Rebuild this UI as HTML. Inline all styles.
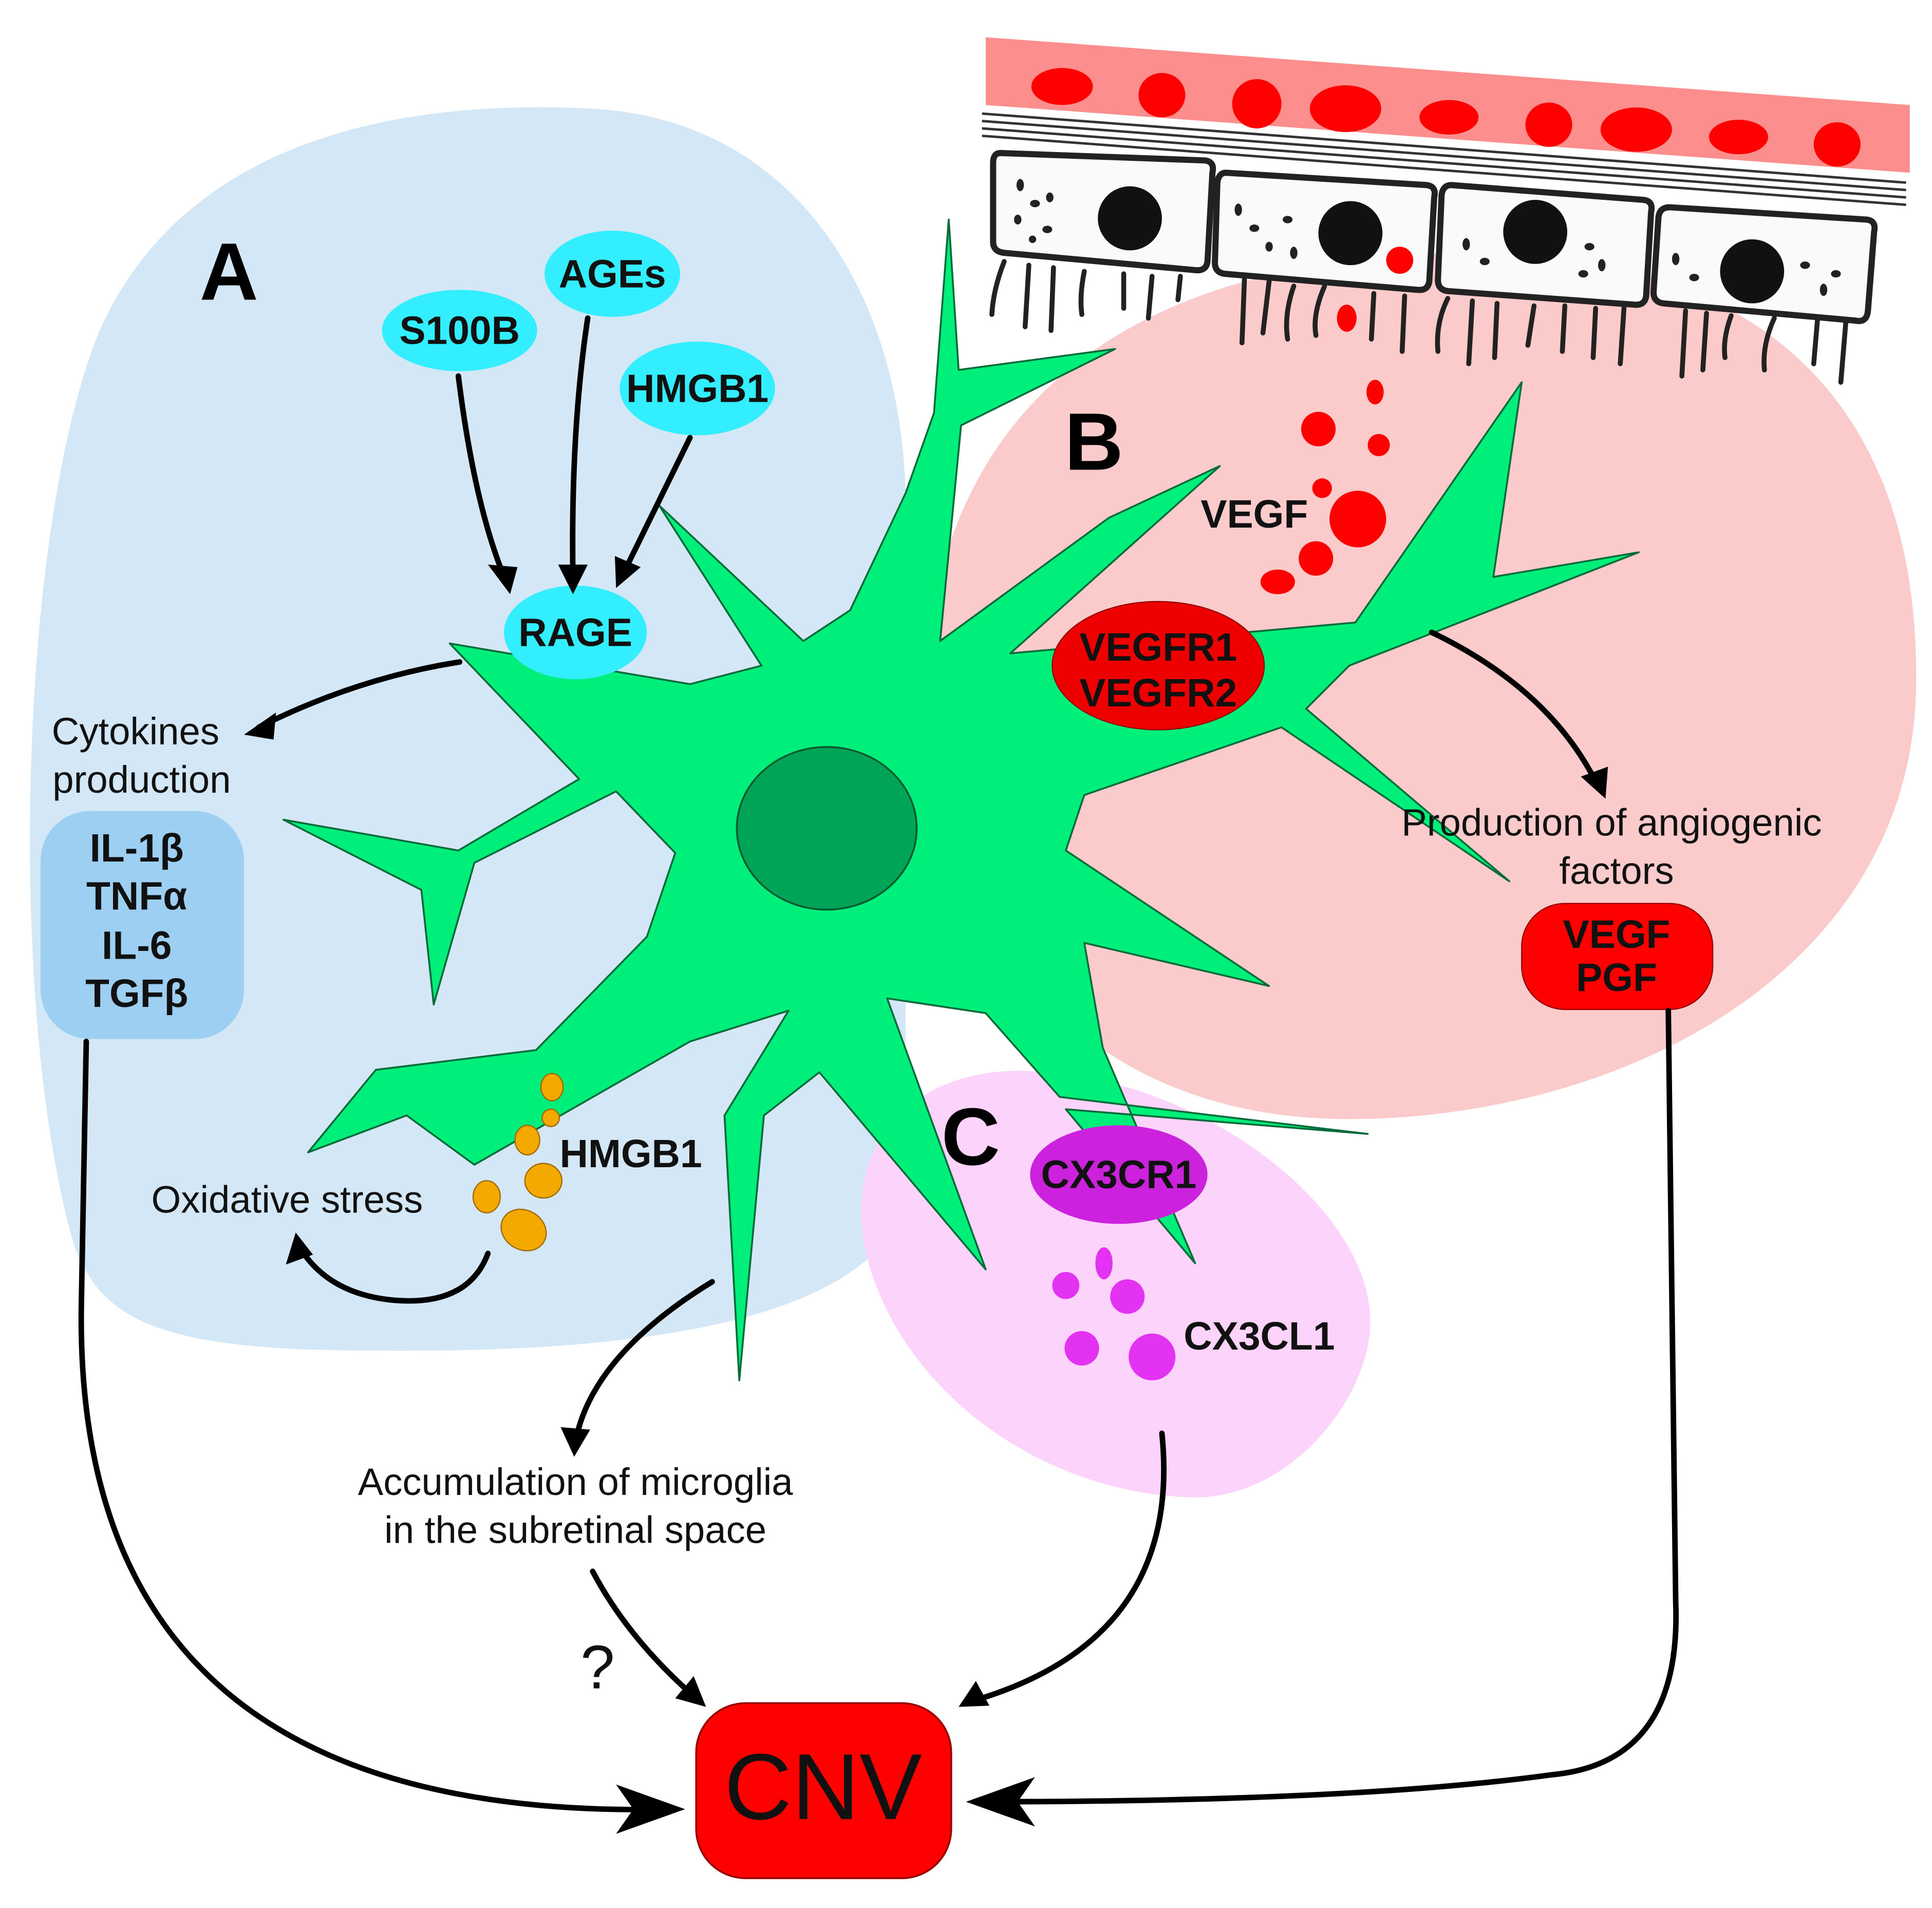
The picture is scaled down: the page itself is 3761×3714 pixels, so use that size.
<!DOCTYPE html>
<html><head><meta charset="utf-8"><style>
html,body{margin:0;padding:0;background:#fff;}
svg{display:block;}
text{font-family:"Liberation Sans",Arial,sans-serif;}
</style></head><body>
<svg width="3761" height="3714" viewBox="0 0 1568 1548" xmlns="http://www.w3.org/2000/svg">
<rect width="1568" height="1548" fill="#fff"/>
<!-- region A -->
<path d="M60,1010 C5,820 15,430 80,270 C150,110 330,80 480,88 C640,96 730,230 735,400 L735,980 C690,1090 450,1100 250,1095 C120,1090 80,1065 60,1010 Z" fill="#d3e7f7"/>
<!-- region B -->
<path d="M760,480 C800,300 950,210 1180,205 C1420,200 1560,320 1555,560 C1550,780 1330,905 1100,908 C880,910 770,760 760,600 Z" fill="#fbcbcb"/>
<!-- region C -->
<path d="M700,1000 C690,910 760,860 850,870 C980,880 1110,980 1112,1070 C1114,1130 1050,1215 970,1215 C830,1212 715,1110 700,1000 Z" fill="#fbd3fb"/>
<!-- top band -->
<polygon points="800,30 1550,85 1550,140 800,85" fill="#fd8e8e"/>
<g fill="#ff0000">
<ellipse cx="862" cy="70" rx="25" ry="15"/><ellipse cx="943" cy="77" rx="19" ry="18"/>
<ellipse cx="1020" cy="84" rx="20" ry="20"/><ellipse cx="1092" cy="88" rx="29" ry="19"/>
<ellipse cx="1176" cy="95" rx="24" ry="14"/><ellipse cx="1257" cy="101" rx="19" ry="18"/>
<ellipse cx="1328" cy="105" rx="29" ry="18"/><ellipse cx="1411" cy="111" rx="24" ry="14"/>
<ellipse cx="1491" cy="117" rx="19" ry="18"/>
</g>
<g stroke="#333" stroke-width="2" fill="none">
<line x1="797" y1="92" x2="1547" y2="148"/><line x1="797" y1="98" x2="1547" y2="154"/>
<line x1="797" y1="104" x2="1547" y2="160"/><line x1="797" y1="110" x2="1547" y2="166"/>
</g>
<!-- cells -->
<g stroke="#222" stroke-width="5" fill="#fafafa">
<path d="M812,124 L978,130 Q986,131 984,140 L980,212 Q979,220 970,219 L815,205 Q806,204 806,196 L806,132 Q806,124 812,124Z"/>
<path d="M995,140 L1158,150 Q1166,151 1164,160 L1160,228 Q1159,236 1150,235 L994,222 Q986,221 986,213 L988,148 Q989,140 995,140Z"/>
<path d="M1178,150 L1334,162 Q1342,163 1340,172 L1336,240 Q1335,248 1326,247 L1175,236 Q1167,235 1167,227 L1170,158 Q1171,150 1178,150Z"/>
<path d="M1355,168 L1515,178 Q1523,179 1521,188 L1516,252 Q1515,262 1506,260 L1350,246 Q1342,245 1342,237 L1346,176 Q1347,168 1355,168Z"/>
</g>
<g fill="#111">
<circle cx="917" cy="177" r="26"/><circle cx="1096" cy="189" r="26"/>
<circle cx="1246" cy="188" r="26"/><circle cx="1422" cy="220" r="26"/>
<circle cx="1136" cy="211" r="11" fill="#f00"/>
<ellipse cx="1093" cy="258" rx="8" ry="11" fill="#f00"/>
</g>
<g fill="#222">
<ellipse cx="828" cy="150" rx="3" ry="5"/><ellipse cx="840" cy="165" rx="4" ry="3"/><ellipse cx="826" cy="178" rx="3" ry="4"/><ellipse cx="850" cy="186" rx="4" ry="3"/><ellipse cx="838" cy="194" rx="3" ry="3"/><ellipse cx="852" cy="160" rx="3" ry="4"/>
<ellipse cx="1005" cy="170" rx="3" ry="5"/><ellipse cx="1018" cy="185" rx="4" ry="3"/><ellipse cx="1030" cy="200" rx="3" ry="4"/><ellipse cx="1045" cy="178" rx="4" ry="3"/><ellipse cx="1050" cy="205" rx="3" ry="5"/>
<ellipse cx="1190" cy="198" rx="3" ry="5"/><ellipse cx="1205" cy="212" rx="4" ry="3"/><ellipse cx="1290" cy="200" rx="4" ry="3"/><ellipse cx="1300" cy="215" rx="3" ry="5"/><ellipse cx="1285" cy="222" rx="4" ry="3"/>
<ellipse cx="1360" cy="210" rx="3" ry="5"/><ellipse cx="1375" cy="225" rx="4" ry="3"/><ellipse cx="1465" cy="215" rx="4" ry="3"/><ellipse cx="1480" cy="235" rx="3" ry="5"/><ellipse cx="1490" cy="222" rx="4" ry="3"/>
</g>
<g stroke="#222" stroke-width="4" fill="none" stroke-linecap="round">
<path d="M815,212 Q806,235 805,255"/><path d="M835,215 L832,265"/><path d="M855,217 L853,268"/><path d="M880,220 Q876,240 878,255"/><path d="M912,222 L912,250"/><path d="M935,224 L932,258"/><path d="M958,224 L956,243"/>
<path d="M1010,226 L1008,278"/><path d="M1030,228 L1025,270"/><path d="M1050,232 Q1042,255 1045,275"/><path d="M1075,232 Q1065,255 1068,272"/><path d="M1115,238 L1113,275"/><path d="M1140,240 L1138,285"/>
<path d="M1175,242 Q1165,262 1167,285"/><path d="M1195,244 L1192,295"/><path d="M1215,246 L1213,290"/><path d="M1245,248 L1240,280"/><path d="M1270,248 L1268,285"/><path d="M1295,250 L1293,290"/><path d="M1318,250 L1315,295"/>
<path d="M1368,252 L1365,305"/><path d="M1385,254 L1382,300"/><path d="M1405,256 Q1398,275 1400,290"/><path d="M1440,258 Q1430,280 1432,300"/><path d="M1475,260 L1472,295"/><path d="M1498,262 L1494,310"/>
</g>
<!-- microglia -->
<polygon fill="#00ee7a" stroke="#0a6a3a" stroke-width="1.5" stroke-linejoin="round" points="
770,178 778,300 905,283 780,345 763,520 900,420 990,378 820,530 1100,505 1235,310 1212,468 1330,448 1095,540 1060,575 1225,715 1040,590 880,645 865,690 1030,800 880,765 895,850 970,1025 865,900 1110,920 860,890 800,822 720,810 800,1030 665,870 620,905 600,1120 588,905 640,820 560,845 385,945 330,905 250,935 305,868 435,852 525,760 548,692 500,642 385,700 352,815 342,722 230,665 372,690 470,632 365,522 560,555 618,540 535,410 652,520 690,495 735,400 758,335"/>
<ellipse cx="671" cy="672" rx="73" ry="66" fill="#00a457" stroke="#0a5a30" stroke-width="1.5"/>
<!-- VEGF dots -->
<g fill="#ff0000">
<circle cx="1070" cy="348" r="14"/><ellipse cx="1116" cy="318" rx="7" ry="10"/><circle cx="1119" cy="361" r="9"/>
<circle cx="1073" cy="396" r="8"/><circle cx="1102" cy="421" r="23"/><circle cx="1068" cy="453" r="14"/><ellipse cx="1037" cy="472" rx="14" ry="10"/>
</g>
<!-- CX3CL1 dots -->
<g fill="#e432f3">
<circle cx="865" cy="1043" r="11"/><ellipse cx="896" cy="1025" rx="7" ry="13"/><circle cx="915" cy="1052" r="14"/>
<circle cx="878" cy="1094" r="14"/><circle cx="935" cy="1101" r="19"/>
</g>
<!-- HMGB1 orange -->
<g fill="#f4a900" stroke="#a06a00" stroke-width="1">
<ellipse cx="448" cy="882" rx="9" ry="11"/><circle cx="447" cy="907" r="7"/><ellipse cx="428" cy="925" rx="10" ry="12"/>
<ellipse cx="441" cy="958" rx="15" ry="14"/><ellipse cx="395" cy="971" rx="11" ry="13"/><ellipse cx="425" cy="998" rx="19" ry="16" transform="rotate(30 425 998)"/>
</g>
<!-- ellipses labels -->
<g font-weight="bold" font-size="32" text-anchor="middle" fill="#111">
<ellipse cx="497" cy="222" rx="55" ry="35" fill="#33eeff"/><text x="497" y="233">AGEs</text>
<ellipse cx="373" cy="268" rx="63" ry="33" fill="#33eeff"/><text x="373" y="279">S100B</text>
<ellipse cx="566" cy="315" rx="63" ry="38" fill="#33eeff"/><text x="566" y="326">HMGB1</text>
<ellipse cx="467" cy="513" rx="58" ry="38" fill="#33eeff"/><text x="467" y="524">RAGE</text>
<ellipse cx="940" cy="540" rx="86" ry="52" fill="#ee0000" stroke="#900" stroke-width="1"/>
<text x="940" y="536">VEGFR1</text><text x="940" y="573">VEGFR2</text>
<ellipse cx="908" cy="953" rx="72" ry="40" fill="#cc22dd"/><text x="908" y="964">CX3CR1</text>
<rect x="33" y="658" width="165" height="185" rx="40" fill="#9ccff2"/>
<text x="111" y="699">IL-1β</text><text x="111" y="738">TNFα</text><text x="111" y="778">IL-6</text><text x="111" y="817">TGFβ</text>
<rect x="1235" y="733" width="155" height="86" rx="35" fill="#ff0000" stroke="#900" stroke-width="1"/>
<text x="1312" y="769">VEGF</text><text x="1312" y="804">PGF</text>
<text x="1018" y="428">VEGF</text>
<text x="512" y="947">HMGB1</text>
<text x="1022" y="1095">CX3CL1</text>
</g>
<rect x="565" y="1382" width="207" height="142" rx="40" fill="#ff0000" stroke="#900" stroke-width="1.5"/>
<text x="668" y="1476" font-size="76" text-anchor="middle" fill="#111">CNV</text>
<g font-weight="bold" font-size="66" fill="#000">
<text x="162" y="243">A</text><text x="864" y="381">B</text><text x="764" y="945">C</text>
</g>
<g font-size="31" fill="#111" text-anchor="middle">
<text x="110" y="604">Cytokines</text><text x="115" y="643">production</text>
<text x="233" y="984">Oxidative stress</text>
<text x="1308" y="678">Production of angiogenic</text><text x="1312" y="717">factors</text>
<text x="467" y="1213">Accumulation of microglia</text><text x="467" y="1252">in the subretinal space</text>
<text x="485" y="1370" font-size="50">?</text>
</g>
<!-- arrows -->
<g stroke="#000" stroke-width="4.5" fill="none" stroke-linecap="round">
<path d="M372,305 Q385,410 410,470"/>
<path d="M477,258 Q463,350 465,470"/>
<path d="M560,355 L506,465"/>
<path d="M373,537 Q290,550 210,590"/>
<path d="M396,1017 Q380,1060 320,1055 Q265,1050 242,1010"/>
<path d="M1162,513 Q1260,560 1298,640"/>
<path d="M578,1040 Q480,1100 467,1170"/>
<path d="M481,1275 Q510,1330 565,1378"/>
<path d="M943,1163 Q960,1330 790,1380"/>
<path d="M70,845 L66,1060 Q60,1480 545,1468"/>
<path d="M1354,820 L1360,1300 Q1365,1430 1260,1440 Q1100,1462 795,1462"/>
</g>
<g fill="#000">
<polygon points="414,482 396,458 420,460"/>
<polygon points="465,482 453,458 477,458"/>
<polygon points="500,477 499,451 520,460"/>
<polygon points="198,596 224,578 222,600"/>
<polygon points="240,1000 232,1026 254,1018"/>
<polygon points="1303,648 1283,630 1305,622"/>
<polygon points="466,1182 455,1158 479,1160"/>
<polygon points="573,1385 548,1378 563,1360"/>
<polygon points="778,1385 792,1364 803,1384"/>
<polygon points="556,1468 500,1448 514,1468 500,1488"/>
<polygon points="784,1462 840,1442 826,1462 840,1482"/>
</g>
</svg>
</body></html>
